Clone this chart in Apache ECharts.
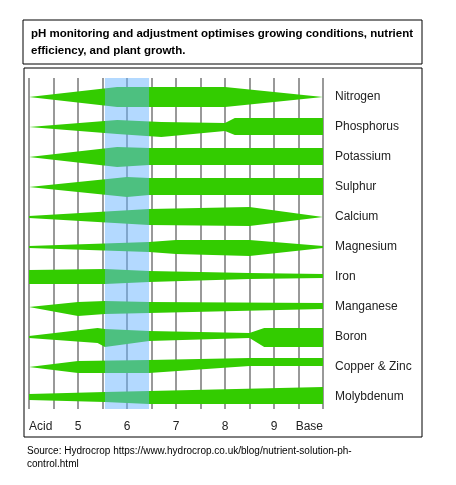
<!DOCTYPE html>
<html><head><meta charset="utf-8">
<script src="https://cdn.jsdelivr.net/npm/echarts@6/dist/echarts.min.js"></script>
<style>html,body{margin:0;padding:0;background:#fff}#c{width:456px;height:485px}</style>
</head><body><div id="c"></div>
<script>
const nutrients = ['Nitrogen','Phosphorus','Potassium','Sulphur','Calcium','Magnesium','Iron','Manganese','Boron','Copper & Zinc','Molybdenum'];
// each profile point: [pH, thickness above centre, thickness below centre] (in 1/30 of a row)
const Nitrogen    = [[4,0,0],[5.8,10,10],[8,10,10],[10,0,0]];
const Phosphorus  = [[4,0,0],[5.8,7,7],[6.7,5,10],[8,4,4],[8.2,9,8],[10,9,8]];
const Potassium   = [[4,0,0],[5.8,10,10],[6.45,9,8],[10,9,8]];
const Sulphur     = [[4,0,0],[6,10,10],[6.45,9,8],[10,9,8]];
const Calcium     = [[4,1,1],[6.45,8,8],[8.5,10,9],[10,0,0]];
const Magnesium   = [[4,1,1],[6.45,5,5],[7,7,7],[8.5,7,9],[10,1,1]];
const Iron        = [[4,7,7],[5.55,8,7],[6.45,6,5],[8.5,4,2],[10,3,1]];
const Manganese   = [[4,0,0],[5,5,9],[5.55,6,7],[6.45,5,6],[10,4,2]];
const Boron       = [[4,1,1],[5.4,9,6],[5.55,8,10],[6.45,6,4],[8.5,4,1],[8.8,9,10],[10,9,10]];
const CopperZinc  = [[4,0,0],[5,6,6],[6.45,7,6],[8.5,9,-1],[10,9,-1]];
const Molybdenum  = [[4,3,3],[5.55,5,5],[6.45,6,7],[10,10,7]];
const profiles = [Nitrogen,Phosphorus,Potassium,Sulphur,Calcium,Magnesium,Iron,Manganese,Boron,CopperZinc,Molybdenum];
const phTicks = {4:'Acid',5:'5',6:'6',7:'7',8:'8',9:'9',10:'Base'};
const optimalBand = [5.55, 6.45];

const chart = echarts.init(document.getElementById('c'));
chart.setOption({
  animation:false,
  grid:{left:29,right:133,top:78,bottom:76},
  xAxis:{type:'value',min:4,max:10,interval:0.5,
    axisLine:{show:false},axisTick:{show:false},
    splitLine:{show:true,lineStyle:{color:'#777',width:1.5}},
    axisLabel:{margin:12,color:'#222',fontSize:12,fontFamily:'Liberation Sans',
      alignMinLabel:'left',alignMaxLabel:'right',
      formatter:v=>phTicks[v]!==undefined?phTicks[v]:''}},
  yAxis:{type:'value',min:-0.63,max:10.4,inverse:true,show:false},
  series:[{
    type:'custom',z:2,
    data:nutrients.map((n,i)=>[i]),
    renderItem:(params,api)=>{
      const i=api.value(0), p=profiles[i];
      const top=p.map(d=>api.coord([d[0],i-d[1]/30]));
      const bot=p.slice().reverse().map(d=>api.coord([d[0],i+d[2]/30]));
      const lab=api.coord([10,i]);
      return {type:'group',children:[
        {type:'polygon',shape:{points:top.concat(bot)},style:{fill:'#33cc00'}},
        {type:'text',x:lab[0]+12,y:lab[1],style:{text:nutrients[i],fill:'#222',fontSize:12,fontFamily:'Liberation Sans',verticalAlign:'middle'}}
      ]};
    }
  },{
    type:'custom',z:10,silent:true,
    data:[optimalBand],
    renderItem:(params,api)=>{
      const a=api.coord([api.value(0),-0.63]), b=api.coord([api.value(1),10.4]);
      return {type:'rect',shape:{x:a[0],y:a[1],width:b[0]-a[0],height:b[1]-a[1]},style:{fill:'rgba(103,179,255,0.5)'}};
    }
  }],
  graphic:[
    {type:'rect',shape:{x:23,y:20,width:399,height:44},style:{fill:'none',stroke:'#000',lineWidth:1}},
    {type:'text',left:31,top:25,style:{text:'pH monitoring and adjustment optimises growing conditions, nutrient\nefficiency, and plant growth.',fontSize:11.5,fontWeight:'bold',fontFamily:'Liberation Sans',lineHeight:17,fill:'#000'}},
    {type:'rect',shape:{x:24,y:68,width:398,height:369},style:{fill:'none',stroke:'#000',lineWidth:1}},
    {type:'text',left:27,top:445,style:{text:'Source: Hydrocrop https://www.hydrocrop.co.uk/blog/nutrient-solution-ph-\ncontrol.html',fontSize:10,fontFamily:'Liberation Sans',lineHeight:13,fill:'#000'}}
  ]
});
</script></body></html>
